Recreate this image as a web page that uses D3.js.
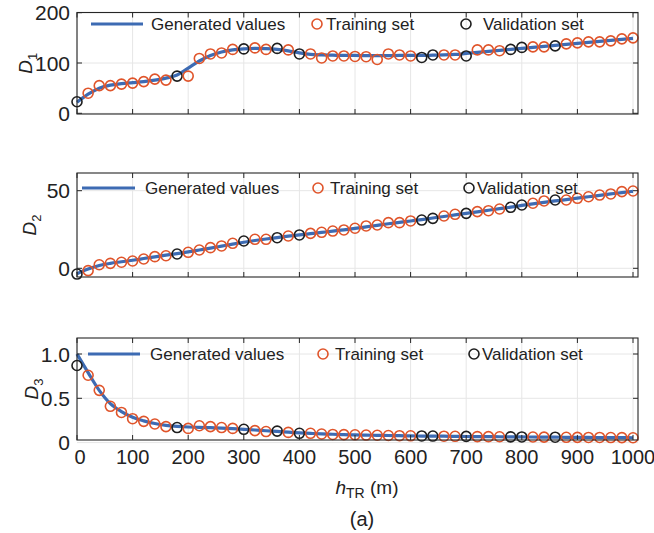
<!DOCTYPE html>
<html>
<head>
<meta charset="utf-8">
<script src="https://cdn.jsdelivr.net/npm/d3@7"></script>
<style>
  body { margin: 0; background: #fff; }
  svg { display: block; font-family: "Liberation Sans", Arial, sans-serif; }
</style>
</head>
<body>
<svg id="view" width="654" height="533"></svg>
<script>
// distances h_TR (m), one sample every 20 m
var dist = [0,20,40,60,80,100,120,140,160,180,200,220,240,260,280,300,320,340,360,380,
            400,420,440,460,480,500,520,540,560,580,600,620,640,660,680,700,720,740,760,780,
            800,820,840,860,880,900,920,940,960,980,1000];
var validation = [0,180,300,360,400,620,640,700,780,800,860];

var d1_obs = [23,40,55,55,58,60,63,68,66,74,74,109,118,120,127,128,130,127,129,126,
              118,118,110,114,114,113,112.5,107,118,116,114,111,116,116,116,114,126,126,124.5,127,
              131,132,132,134,138,140,142,142,144,148,150];
var d1_gen = [22,38,50,56,59,61,63,66,70,76,90,104,115,122,126,128,129,128.5,127,124,
              120,117,116,115.5,115,115,114.5,114.5,114.5,115,115,115,115.5,116,117,119,121,123,125,127,
              129,131,133,135,137,139,141,143,145,147,149];

var d2_obs = [-3.7,-1.5,2.3,3.2,3.9,4.7,6,7.5,8.1,9.2,10.3,11.8,13.3,14.4,16.1,17.6,18.7,18.7,19.7,20.8,
              21.5,22.5,23.2,24,24.7,25.8,27.3,27.9,29.4,29.4,30.5,31.1,32.2,33.7,34.8,35.4,36.5,37.1,38.2,39.3,
              40.8,41.9,43.4,44,44,45.1,46.1,47.2,47.9,49.4,49.8];
var d2_gen = [-3.5,-0.5,1.8,3.2,4.2,5.2,6.3,7.4,8.5,9.5,10.6,11.8,13,14.3,15.6,16.8,17.9,18.9,19.8,20.7,
              21.5,22.3,23.1,23.9,24.8,25.7,26.7,27.7,28.7,29.6,30.5,31.4,32.4,33.4,34.4,35.4,36.4,37.4,38.4,39.4,
              40.5,41.5,42.5,43.4,44.3,45.2,46.1,47,47.9,48.8,49.6];

var d3_obs = [0.87,0.76,0.59,0.41,0.34,0.27,0.24,0.21,0.18,0.17,0.16,0.19,0.18,0.17,0.16,0.15,0.135,0.125,0.13,0.115,
              0.105,0.105,0.097,0.092,0.09,0.088,0.085,0.083,0.08,0.078,0.077,0.075,0.074,0.072,0.071,0.07,0.068,0.067,0.066,0.065,
              0.064,0.063,0.062,0.061,0.06,0.059,0.058,0.058,0.057,0.056,0.055];
var d3_gen = [1.0,0.79,0.59,0.44,0.35,0.285,0.245,0.215,0.195,0.183,0.176,0.172,0.168,0.164,0.158,0.15,0.142,0.134,0.126,0.118,
              0.11,0.104,0.098,0.094,0.09,0.087,0.084,0.082,0.08,0.078,0.076,0.074,0.073,0.072,0.07,0.069,0.068,0.067,0.066,0.065,
              0.064,0.063,0.062,0.061,0.06,0.059,0.058,0.057,0.056,0.056,0.055];

var xTicks = [0,100,200,300,400,500,600,700,800,900,1000];
var legendNames = ['Generated values', 'Training set', 'Validation set'];

const BLUE = '#3d6bb3', ORANGE = '#e0542a', DARK = '#1e1e1e', AXIS = '#262626', GRID = '#e6e6e6';
const LEFT = 77, RIGHT = 638;

var panels = [
    {obs: d1_obs, gen: d1_gen, label: '1', top: 12.5, bottom: 114, ydom: [0, 200], yrng: [113.3, 12.7],
     yticks: [0, 100, 200], fmt: d3.format('d'), labx: 25, leg: {y: 24, line: [91, 143], t1: 151, c2: 317, t2: 326, c3: 466, t3: 483}},
    {obs: d2_obs, gen: d2_gen, label: '2', top: 173, bottom: 277, ydom: [0, 50], yrng: [268.3, 190.7],
     yticks: [0, 50], fmt: d3.format('d'), labx: 29, leg: {y: 188, line: [82, 135], t1: 145, c2: 318, t2: 330, c3: 469, t3: 477}},
    {obs: d3_obs, gen: d3_gen, label: '3', top: 338, bottom: 440, ydom: [0, 1], yrng: [442.6, 354],
     yticks: [0, 0.5, 1], fmt: function(v) { return v === 0 ? '0' : d3.format('.1f')(v); }, labx: 31,
     leg: {y: 354, line: [88, 140], t1: 150, c2: 323, t2: 335, c3: 474, t3: 482}}
];

var svg = d3.select('#view');
var x = d3.scaleLinear().domain([0, 1000]).range([LEFT, 633]);
var isVal = d => validation.indexOf(d) >= 0;

panels.forEach(function(p, pi) {
    var y = d3.scaleLinear().domain(p.ydom).range(p.yrng);
    var g = svg.append('g');

    // grid
    g.selectAll('line.vg').data(xTicks).enter().append('line')
        .attr('x1', d => x(d)).attr('x2', d => x(d))
        .attr('y1', p.top).attr('y2', p.bottom)
        .attr('stroke', GRID).attr('stroke-width', 1);
    g.selectAll('line.hg').data(p.yticks).enter().append('line')
        .attr('x1', LEFT).attr('x2', RIGHT)
        .attr('y1', d => y(d)).attr('y2', d => y(d))
        .attr('stroke', GRID).attr('stroke-width', 1);

    // generated curve
    var line = d3.line().x((d, i) => x(dist[i])).y(d => y(d)).curve(d3.curveMonotoneX);
    g.append('path').datum(p.gen)
        .attr('d', line)
        .attr('fill', 'none')
        .attr('stroke', BLUE)
        .attr('stroke-width', 3.2);

    // sample points
    var pts = dist.map((d, i) => ({h: d, v: p.obs[i]}));
    g.selectAll('circle.pt').data(pts).enter().append('circle')
        .attr('cx', d => x(d.h))
        .attr('cy', d => y(d.v))
        .attr('r', 5)
        .attr('fill', 'none')
        .attr('stroke', d => isVal(d.h) ? DARK : ORANGE)
        .attr('stroke-width', 1.6);

    // box + ticks
    g.append('rect')
        .attr('x', LEFT).attr('y', p.top)
        .attr('width', RIGHT - LEFT).attr('height', p.bottom - p.top)
        .attr('fill', 'none').attr('stroke', AXIS).attr('stroke-width', 1.1);
    xTicks.forEach(function(t) {
        g.append('line').attr('x1', x(t)).attr('x2', x(t)).attr('y1', p.bottom).attr('y2', p.bottom - 5)
            .attr('stroke', AXIS);
        g.append('line').attr('x1', x(t)).attr('x2', x(t)).attr('y1', p.top).attr('y2', p.top + 5)
            .attr('stroke', AXIS);
    });
    p.yticks.forEach(function(t) {
        if (y(t) > p.bottom + 0.5) return;
        g.append('line').attr('x1', LEFT).attr('x2', LEFT + 5).attr('y1', y(t)).attr('y2', y(t))
            .attr('stroke', AXIS);
        g.append('line').attr('x1', RIGHT).attr('x2', RIGHT - 5).attr('y1', y(t)).attr('y2', y(t))
            .attr('stroke', AXIS);
    });

    // y tick labels
    g.selectAll('text.yt').data(p.yticks).enter().append('text')
        .attr('x', 70)
        .attr('y', d => y(d))
        .attr('dy', '0.36em')
        .attr('text-anchor', 'end')
        .attr('font-size', 21)
        .attr('fill', '#222')
        .text(p.fmt);

    // y label
    var lab = g.append('text')
        .attr('transform', 'translate(' + p.labx + ',' + ((p.top + p.bottom) / 2) + ') rotate(-90)')
        .attr('text-anchor', 'middle')
        .attr('dy', '0.35em')
        .attr('font-size', 19)
        .attr('fill', '#222');
    lab.append('tspan').attr('font-style', 'italic').text('D');
    lab.append('tspan').attr('font-size', 13).attr('dy', 5).text(p.label);

    // legend
    var L = p.leg;
    g.append('line').attr('x1', L.line[0]).attr('x2', L.line[1]).attr('y1', L.y).attr('y2', L.y)
        .attr('stroke', BLUE).attr('stroke-width', 3.2);
    g.append('circle').attr('cx', L.c2).attr('cy', L.y).attr('r', 5)
        .attr('fill', 'none').attr('stroke', ORANGE).attr('stroke-width', 1.6);
    g.append('circle').attr('cx', L.c3).attr('cy', L.y).attr('r', 5)
        .attr('fill', 'none').attr('stroke', DARK).attr('stroke-width', 1.6);
    [[L.t1, 0], [L.t2, 1], [L.t3, 2]].forEach(function(a) {
        g.append('text').attr('x', a[0]).attr('y', L.y).attr('dy', '0.36em')
            .attr('font-size', 17).attr('fill', '#222').text(legendNames[a[1]]);
    });
});

// x tick labels on bottom panel
svg.selectAll('text.xt').data(xTicks).enter().append('text')
    .attr('x', d => x(d) + (d === 0 ? 3 : 0))
    .attr('y', 464)
    .attr('text-anchor', 'middle')
    .attr('font-size', 20)
    .attr('fill', '#222')
    .text(d => d);

var xl = svg.append('text').attr('x', 367).attr('y', 494).attr('text-anchor', 'middle')
    .attr('font-size', 19).attr('fill', '#222');
xl.append('tspan').attr('font-style', 'italic').text('h');
xl.append('tspan').attr('font-size', 14).attr('dy', 4).text('TR');
xl.append('tspan').attr('dy', -4).text(' (m)');

svg.append('text').attr('x', 362).attr('y', 526).attr('text-anchor', 'middle')
    .attr('font-size', 20).attr('fill', '#222').text('(a)');
</script>
</body>
</html>
